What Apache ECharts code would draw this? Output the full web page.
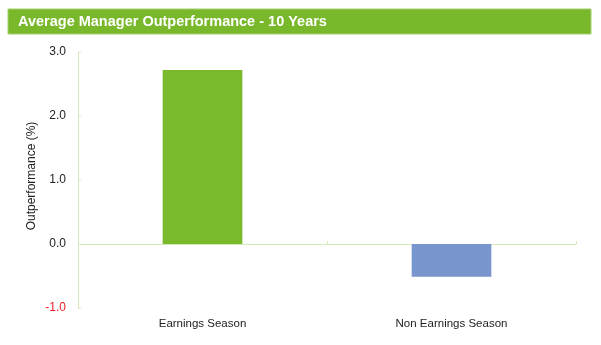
<!DOCTYPE html>
<html>
<head>
<meta charset="utf-8">
<script src="https://cdn.jsdelivr.net/npm/echarts@6/dist/echarts.min.js"></script>
<style>html,body{margin:0;padding:0;background:#fff}#c{width:601px;height:345px}</style>
</head>
<body>
<div id="c"></div>
<script>
const titleText = 'Average Manager Outperformance - 10 Years';
const categories = ['Earnings Season', 'Non Earnings Season'];
const values = [2.72, -0.51];
const barColors = ['#7ab92b', '#7896cd'];
const yTicks = [-1, 0, 1, 2, 3];
const yName = 'Outperformance (%)';

const chart = echarts.init(document.getElementById('c'), null, {renderer: 'canvas'});
const font = 'Liberation Sans, Arial, Helvetica, sans-serif';
const axisGreen = '#d7eabb';
chart.setOption({
  animation: false,
  textStyle: {fontFamily: font},
  graphic: [
    {type: 'rect', shape: {x: 8, y: 9, width: 583, height: 25}, style: {fill: '#79b82b', stroke: '#a6d06e', lineWidth: 1}},
    {type: 'text', x: 18, y: 21.5, style: {text: titleText, fill: '#ffffff', font: 'bold 14.5px ' + font, verticalAlign: 'middle'}}
  ],
  grid: {left: 78, right: 25, top: 52, bottom: 37},
  xAxis: [
    {type: 'category', data: categories, position: 'bottom',
     axisLine: {show: true, onZero: true, lineStyle: {color: axisGreen, width: 1}},
     axisTick: {show: true, inside: true, length: 3, lineStyle: {color: axisGreen}},
     axisLabel: {show: false}},
    {type: 'category', data: categories, position: 'bottom',
     axisLine: {show: false, onZero: false}, axisTick: {show: false},
     axisLabel: {color: '#222', fontSize: 11.5, margin: 10}}
  ],
  yAxis: {
    type: 'value', min: yTicks[0], max: yTicks[yTicks.length - 1], interval: 1,
    name: yName, nameLocation: 'middle', nameGap: 40, nameMoveOverlap: false,
    nameTextStyle: {color: '#222', fontSize: 12, padding: [0, 0, 0, 8]},
    axisLine: {show: true, lineStyle: {color: axisGreen}},
    axisTick: {show: true, inside: true, length: 3, lineStyle: {color: axisGreen}},
    splitLine: {show: false},
    axisLabel: {
      fontSize: 12, margin: 12,
      formatter: v => v.toFixed(1),
      color: v => (v < 0 ? '#ee1c25' : '#222')
    }
  },
  series: [{
    type: 'bar', xAxisIndex: 0, barWidth: '32%',
    data: values.map((v, i) => ({value: v, itemStyle: {color: barColors[i]}}))
  }]
});
</script>
</body>
</html>
